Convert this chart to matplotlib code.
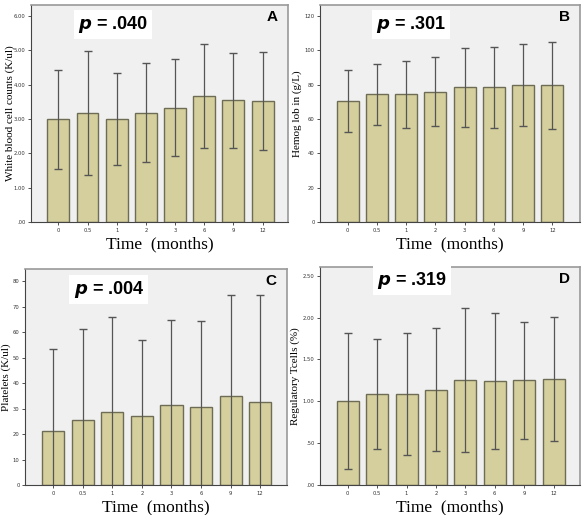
import numpy as np
import matplotlib.pyplot as plt
from matplotlib.ticker import FuncFormatter

# --- data (mean and SD per time point) ---
months = ["0", "0.5", "1", "2", "3", "6", "9", "12"]

wbc_mean = [2.99, 3.18, 2.99, 3.19, 3.33, 3.67, 3.55, 3.53]
wbc_sd = [1.45, 1.81, 1.34, 1.44, 1.41, 1.51, 1.38, 1.42]

hgb_mean = [70.3, 74.2, 74.2, 75.7, 78.3, 78.4, 79.8, 79.6]
hgb_sd = [18.0, 17.6, 19.4, 20.1, 23.1, 23.5, 23.8, 25.2]

plt_mean = [21.4, 25.5, 28.9, 27.2, 31.6, 30.7, 34.8, 32.7]
plt_sd = [32.2, 35.7, 37.1, 29.9, 33.1, 33.9, 39.7, 41.8]

treg_mean = [1.00, 1.09, 1.09, 1.14, 1.25, 1.24, 1.25, 1.27]
treg_sd = [0.81, 0.66, 0.73, 0.73, 0.86, 0.81, 0.70, 0.74]

bar_color = "#d4cf9c"
edge_color = "#6e6c55"
bg_color = "#f0f0f0"


def spss_fmt(v, pos):
    s = f"{v:.2f}"
    return s[1:] if s.startswith("0") else s


panels = [
    dict(rect=[0.053, 0.569, 0.441, 0.421], mean=wbc_mean, sd=wbc_sd, ylim=6.32,
         ticks=np.arange(0, 6.01, 1.0), fmt=spss_fmt, ylabel="White blood cell counts (K/ul)",
         p="= .040", letter="A", px=0.32, py=0.91, xlim=(-0.94, 7.87), labx=-0.062),
    dict(rect=[0.549, 0.569, 0.446, 0.421], mean=hgb_mean, sd=hgb_sd, ylim=126.2,
         ticks=np.arange(0, 121, 20), fmt=lambda v, p: f"{v:.0f}", ylabel="Hemog lob in (g/L)",
         p="= .301", letter="B", px=0.35, py=0.91, xlim=(-0.94, 7.95), labx=-0.07),
    dict(rect=[0.043, 0.058, 0.449, 0.419], mean=plt_mean, sd=plt_sd, ylim=84.7,
         ticks=np.arange(0, 81, 10), fmt=lambda v, p: f"{v:.0f}", ylabel="Platelets (K/ul)",
         p="= .004", letter="C", px=0.32, py=0.907, xlim=(-0.95, 7.9), labx=-0.053),
    dict(rect=[0.549, 0.058, 0.446, 0.423], mean=treg_mean, sd=treg_sd, ylim=2.6,
         ticks=np.arange(0, 2.51, 0.5), fmt=spss_fmt, ylabel="Regulatory Tcells (%)",
         p="= .319", letter="D", px=0.355, py=0.94, xlim=(-0.94, 7.9), labx=-0.077),
]

fig = plt.figure(figsize=(5.83, 5.15), dpi=100)
x = np.arange(len(months))

for pn in panels:
    ax = fig.add_axes(pn["rect"])
    ax.set_facecolor(bg_color)
    ax.bar(x, pn["mean"], width=0.75, color=bar_color, edgecolor=edge_color, linewidth=1.0, zorder=2)
    ax.errorbar(x, pn["mean"], yerr=pn["sd"], fmt="none", ecolor="#555555",
                elinewidth=0.9, capsize=3, capthick=1.0, zorder=3)
    ax.set_xlim(*pn["xlim"])
    ax.set_ylim(0, pn["ylim"])
    ax.set_yticks(pn["ticks"])
    ax.yaxis.set_major_formatter(FuncFormatter(pn["fmt"]))
    ax.set_xticks(x)
    ax.set_xticklabels(months)
    ax.tick_params(axis="both", labelsize=3.8, length=2, width=0.6, colors="#333333", pad=2)
    for side in ["top", "right"]:
        ax.spines[side].set_color("#999999")
        ax.spines[side].set_linewidth(1.2)
    for side in ["left", "bottom"]:
        ax.spines[side].set_color("#444444")
        ax.spines[side].set_linewidth(0.8)
    ax.set_ylabel(pn["ylabel"], family="Liberation Serif", fontsize=8)
    ax.yaxis.set_label_coords(pn["labx"], 0.5)
    ax.set_xlabel("Time  (months)", family="Liberation Serif", fontsize=12.5, labelpad=3)
    ax.text(pn["px"], pn["py"], r"$\bfit{p}$ " + pn["p"], transform=ax.transAxes,
            ha="center", va="center", fontsize=13, fontweight="bold", family="Liberation Sans",
            bbox=dict(facecolor="white", edgecolor="none", pad=3), zorder=5)
    ax.text(0.94, 0.945, pn["letter"], transform=ax.transAxes, ha="center", va="center",
            fontsize=11, fontweight="bold", family="Liberation Sans", zorder=5)

fig.savefig("out.png", dpi=100)
